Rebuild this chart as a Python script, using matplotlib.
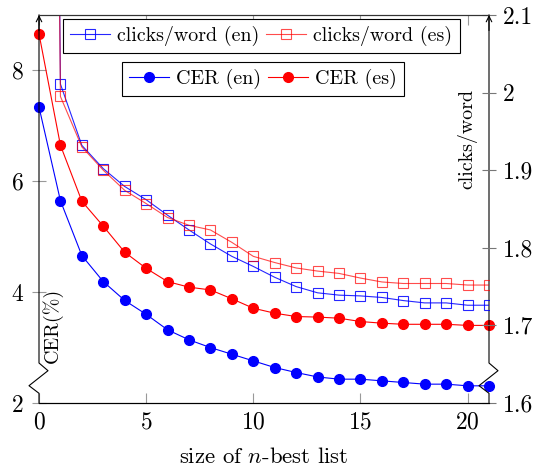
import numpy as np
import matplotlib
matplotlib.use("Agg")
import matplotlib.pyplot as plt
from matplotlib.lines import Line2D

plt.rcParams['font.family'] = ['cmr10', 'DejaVu Serif']
plt.rcParams['mathtext.fontset'] = 'cm'
plt.rcParams['axes.formatter.use_mathtext'] = True
plt.rcParams['font.size'] = 14.4

# ---------------- data ----------------
n_cer = list(range(0, 22))
cer_en = [7.34, 5.65, 4.66, 4.19, 3.85, 3.60, 3.32, 3.14, 3.00, 2.88, 2.76,
          2.64, 2.55, 2.47, 2.43, 2.43, 2.40, 2.37, 2.34, 2.34, 2.31, 2.31]
cer_es = [8.66, 6.65, 5.64, 5.19, 4.72, 4.43, 4.19, 4.09, 4.04, 3.88, 3.71,
          3.62, 3.56, 3.55, 3.53, 3.47, 3.44, 3.42, 3.42, 3.42, 3.40, 3.40]

n_clicks = list(range(0, 22))
# value at n=0 lies far above the plotted range (off-scale estimate)
clicks_en = [5.0, 2.011, 1.932, 1.902, 1.879, 1.862, 1.842, 1.823, 1.805, 1.789, 1.776,
             1.762, 1.750, 1.742, 1.739, 1.738, 1.736, 1.732, 1.729, 1.729, 1.726, 1.726]
clicks_es = [5.0, 1.995, 1.930, 1.900, 1.874, 1.857, 1.839, 1.829, 1.823, 1.807, 1.789,
             1.781, 1.774, 1.770, 1.767, 1.761, 1.756, 1.754, 1.754, 1.754, 1.752, 1.752]

x_ticks = [0, 5, 10, 15, 20]
cer_ticks = [2, 4, 6, 8]
clicks_ticks = [1.6, 1.7, 1.8, 1.9, 2.0, 2.1]
clicks_ticklabels = ['1.6', '1.7', '1.8', '1.9', '2', '2.1']

BLUE = (0, 0, 1)
RED = (1, 0, 0)
TICK_FS = 17

fig = plt.figure(figsize=(5.34, 4.71), dpi=100)
ax = fig.add_axes([39/534, 1 - 403/471, 450/534, 388/471])
ax2 = ax.twinx()

ax.set_xlim(0, 21)
ax.set_ylim(2, 9)
ax2.set_ylim(1.6, 2.1)

# CER curves (left axis)
l_cer_en, = ax.plot(n_cer, cer_en, color=BLUE, lw=0.8, marker='o', ms=7.0,
                    mec=BLUE, mfc=BLUE, clip_on=False, zorder=3, label='CER (en)')
l_cer_es, = ax.plot(n_cer, cer_es, color=RED, lw=0.8, marker='o', ms=7.0,
                    mec=RED, mfc=RED, clip_on=False, zorder=3, label='CER (es)')

# clicks/word curves (right axis)
l_cl_en, = ax2.plot(n_clicks, clicks_en, color=BLUE, lw=0.8, marker='s', ms=6.6,
                    mec=BLUE, mfc='none', mew=0.8, label='clicks/word (en)', alpha=0.85)
l_cl_es, = ax2.plot(n_clicks, clicks_es, color=RED, lw=0.8, marker='s', ms=6.6,
                    mec=RED, mfc='none', mew=0.8, label='clicks/word (es)', alpha=0.7)

# spines
for a in (ax, ax2):
    a.spines['left'].set_visible(False)
    a.spines['right'].set_visible(False)
    a.spines['top'].set_color('#333333')
    a.spines['top'].set_linewidth(0.8)
    a.spines['bottom'].set_linewidth(0.8)
    a.patch.set_visible(False)

# axis lines with zigzag (crunch)
z_top = (403 - 363) / 388
z1 = (403 - 370.7) / 388
z2 = (403 - 385.7) / 388
z3 = (403 - 393.3) / 388
dx1 = 9 / 450
dx2 = 10 / 450
for x0 in (0.0, 1.0):
    xs = [x0, x0, x0 - dx2, x0 + dx1, x0, x0]
    ys = [0.0, z3, z2, z1, z_top, 1.0]
    ln = Line2D(xs, ys, transform=ax.transAxes, color='black', lw=0.8,
                clip_on=False, zorder=5)
    ax.add_line(ln)
    ax.annotate('', xy=(x0, 1.0), xycoords='axes fraction',
                xytext=(x0, 0.96), textcoords='axes fraction',
                arrowprops=dict(arrowstyle='->', lw=0.8, color='black',
                                shrinkA=0, shrinkB=0, mutation_scale=10),
                zorder=6)

# ticks
ax.set_xticks(x_ticks)
ax.set_yticks(cer_ticks)
ax2.set_yticks(clicks_ticks)
ax2.set_yticklabels(clicks_ticklabels)
ax.tick_params(axis='x', direction='in', length=7, width=0.8, color='#999999',
               top=True, pad=6, labelsize=TICK_FS)
ax.tick_params(axis='y', direction='inout', length=10, width=0.8, color='#999999',
               pad=6, labelsize=TICK_FS)
ax2.tick_params(axis='y', direction='inout', length=10, width=0.8, color='#777777',
                pad=5, labelsize=TICK_FS)

# axis labels
ax.set_xlabel('size of $n$-best list', labelpad=10, fontsize=16.4)
ax.text(0.029, 0.201, 'CER(%)', transform=ax.transAxes, rotation=90,
        ha='center', va='center')
ax.text(0.953, 0.680, 'clicks/word', transform=ax.transAxes, rotation=90,
        ha='center', va='center')

# legends
leg1 = ax2.legend(handles=[l_cl_en, l_cl_es], loc='upper left',
                  bbox_to_anchor=((63 - 39) / 450, (403 - 19) / 388),
                  ncol=2, fancybox=False, edgecolor='black', framealpha=1,
                  handlelength=2.0, handletextpad=0.35, columnspacing=0.35,
                  borderaxespad=0, borderpad=0.35)
leg1.get_frame().set_linewidth(0.8)
ax2.add_artist(leg1)
leg2 = ax2.legend(handles=[l_cer_en, l_cer_es], loc='upper left',
                  bbox_to_anchor=((122 - 39) / 450, (403 - 62) / 388),
                  ncol=2, fancybox=False, edgecolor='black', framealpha=1,
                  handlelength=2.0, handletextpad=0.35, columnspacing=0.35,
                  borderaxespad=0, borderpad=0.35)
leg2.get_frame().set_linewidth(0.8)

fig.savefig('out.png', dpi=100)
